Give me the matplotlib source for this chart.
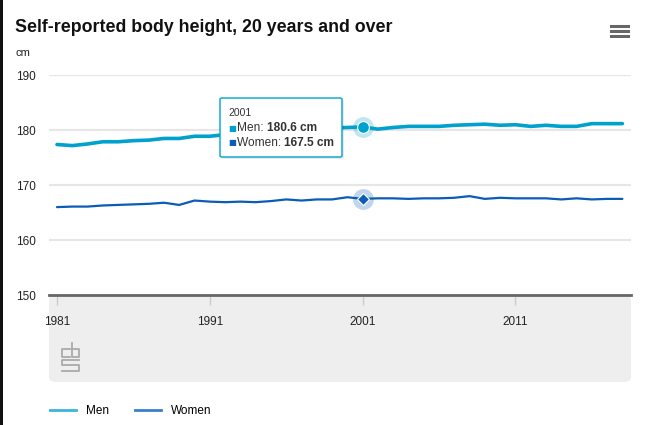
import matplotlib
matplotlib.use('Agg')
import matplotlib.pyplot as plt
from matplotlib.patches import FancyBboxPatch, Rectangle
from matplotlib.lines import Line2D

# data
years = list(range(1981, 2019))
men = [177.4, 177.2, 177.5, 177.9, 177.9, 178.1, 178.2, 178.5, 178.5, 178.9,
       178.9, 179.2, 179.4, 179.6, 179.8, 179.9, 180.0, 180.2, 180.4, 180.5,
       180.6, 180.2, 180.5, 180.7, 180.7, 180.7, 180.9, 181.0, 181.1, 180.9,
       181.0, 180.7, 180.9, 180.7, 180.7, 181.2, 181.2, 181.2]
women = [166.0, 166.1, 166.1, 166.3, 166.4, 166.5, 166.6, 166.8, 166.4, 167.2,
         167.0, 166.9, 167.0, 166.9, 167.1, 167.4, 167.2, 167.4, 167.4, 167.8,
         167.5, 167.6, 167.6, 167.5, 167.6, 167.6, 167.7, 168.0, 167.5, 167.7,
         167.6, 167.6, 167.6, 167.4, 167.6, 167.4, 167.5, 167.5]
xticks = [1981, 1991, 2001, 2011]
yticks = [150, 160, 170, 180, 190]
hover_year = 2001

MEN_C = '#00a1cd'
WOMEN_C = '#0b5cb5'

plt.rcParams['font.family'] = ['Liberation Sans', 'DejaVu Sans']

W, H = 664, 425
fig = plt.figure(figsize=(W / 100, H / 100), dpi=100)
FT = fig.transFigure

def fx(px):
    return px / W

def fy(py):
    return 1 - py / H

# axes area (pixel box of the reference)
L, R, T, B = 49, 631, 75.3, 295
ax = fig.add_axes([fx(L), fy(B), fx(R - L), fy(T) - fy(B)])
ax.set_ylim(150, 190)
ax.set_xlim(1981 - 8 / 15.28, 1981 + (R - 57) / 15.28)
ax.set_facecolor('none')

# grey band below the axis
ax.add_patch(FancyBboxPatch((fx(L), fy(382)), fx(R - L), fy(B) - fy(382),
                            boxstyle='round,pad=0,rounding_size=0.012',
                            transform=FT, facecolor='#eeeeee', edgecolor='none',
                            clip_on=False, zorder=0.2))

# black border on the left edge
fig.patches.append(Rectangle((0, 0), fx(3), 1, transform=FT,
                             facecolor='#111111', edgecolor='none'))

for y in yticks[1:]:
    ax.axhline(y, color='#e6e6e6', lw=1.5, zorder=1)

ax.plot(years, men, color=MEN_C, lw=2.6, zorder=3, solid_capstyle='round')
ax.plot(years, women, color=WOMEN_C, lw=1.6, zorder=3, solid_capstyle='round')

# hover markers
i = years.index(hover_year)
ax.plot(hover_year, men[i], 'o', ms=15, color=MEN_C, alpha=0.25, mec='none', zorder=4)
ax.plot(hover_year, men[i], 'o', ms=8.5, color=MEN_C, mec='white', mew=0.8, zorder=5)
ax.plot(hover_year, women[i], 'o', ms=15, color=WOMEN_C, alpha=0.25, mec='none', zorder=4)
ax.plot(hover_year, women[i], 'D', ms=6.5, color=WOMEN_C, mec='white', mew=0.8, zorder=5)

for s in ['top', 'right', 'left']:
    ax.spines[s].set_visible(False)
ax.spines['bottom'].set_color('#666666')
ax.spines['bottom'].set_linewidth(2)
ax.spines['bottom'].set_zorder(6)

ax.set_yticks(yticks)
ax.set_yticklabels([str(v) for v in yticks], fontsize=8.5, color='#222222', ha='left')
ax.tick_params(axis='y', length=0, pad=24)
ax.set_xticks(xticks)
ax.set_xticklabels([str(v) for v in xticks], fontsize=8.5, color='#222222')
ax.tick_params(axis='x', length=7, width=1, color='#cccccc', pad=8)

fig.text(fx(15), fy(28), 'Self-reported body height, 20 years and over',
         fontsize=12.8, fontweight='bold', color='#111111', va='center')
fig.text(fx(16), fy(53), 'cm', fontsize=8, color='#222222', va='center')

# menu icon
for yy in [26, 31.3, 36.3]:
    fig.add_artist(Line2D([fx(611), fx(628)], [fy(yy), fy(yy)], color='#666666',
                          lw=2.2, transform=FT))

# cbs logo (simple outline)
lx, ly = 62, 343
logo = [
    [(lx + 8, ly + 6), (lx, ly + 6), (lx, ly + 14), (lx + 8, ly + 14)],
    [(lx + 10, ly), (lx + 10, ly + 14), (lx + 17, ly + 14), (lx + 17, ly + 6), (lx + 10, ly + 6)],
    [(lx + 17, ly + 17), (lx, ly + 17), (lx, ly + 22), (lx + 17, ly + 22),
     (lx + 17, ly + 28), (lx, ly + 28)],
]
for seg in logo:
    ax.add_line(Line2D([fx(p[0]) for p in seg], [fy(p[1]) for p in seg],
                       color='#aaaaaa', lw=1.3, transform=FT, clip_on=False, zorder=0.5))

# tooltip
ax.add_patch(FancyBboxPatch((fx(222), fy(159)), fx(122), fy(100) - fy(159),
                            boxstyle='round,pad=0,rounding_size=0.003',
                            transform=FT, facecolor='#000000', alpha=0.08,
                            edgecolor='none', clip_on=False, zorder=9))
ax.add_patch(FancyBboxPatch((fx(220), fy(157)), fx(122), fy(98) - fy(157),
                            boxstyle='round,pad=0,rounding_size=0.003',
                            transform=FT, facecolor='white', edgecolor=MEN_C,
                            lw=1, clip_on=False, zorder=10))
ax.text(fx(228), fy(113), str(hover_year), transform=FT, fontsize=7.5,
        color='#333333', va='center', zorder=11)
rows = [('Men: ', men[i], MEN_C, 128), ('Women: ', women[i], WOMEN_C, 143)]
for label, val, col, yy in rows:
    ax.text(fx(228), fy(yy), '\u25a0', transform=FT, fontsize=6, color=col,
            va='center', family='DejaVu Sans', zorder=11)
    t1 = ax.text(fx(237), fy(yy), label, transform=FT, fontsize=8.6,
                 color='#333333', va='center', zorder=11)
    ax.annotate(f'{val:.1f} cm', xy=(1, 0.5), xycoords=t1, va='center',
                fontsize=8.6, fontweight='bold', color='#333333',
                annotation_clip=False, zorder=11)

# legend
handles = [Line2D([], [], color='#3bb5dc', lw=2), Line2D([], [], color='#3b7fcb', lw=2)]
fig.legend(handles, ['Men', 'Women'], loc='center left',
           bbox_to_anchor=(fx(39), fy(411)), ncol=2, frameon=False,
           fontsize=8.5, handlelength=2.2, columnspacing=2.2, handletextpad=0.85)

fig.savefig('out.png', dpi=100)
